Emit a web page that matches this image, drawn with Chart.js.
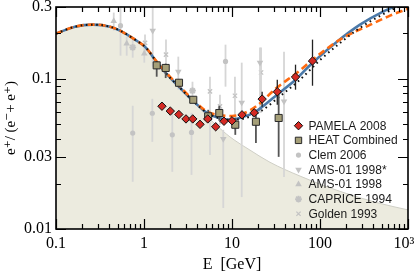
<!DOCTYPE html>
<html>
<head>
<meta charset="utf-8">
<script src="https://cdn.jsdelivr.net/npm/chart.js@4.4.0/dist/chart.umd.min.js"></script>
<style>
  html, body { margin: 0; padding: 0; background: #fff; }
</style>
</head>
<body>
<canvas id="chart" width="415" height="275"></canvas>
<script>
// Axis ticks and their labels
const xTicks = [0.1, 1, 10, 100, 1000];
const xTickLabels = ["0.1", "1", "10", "100", "10³\u2002"];
const yTicks = [0.01, 0.03, 0.1, 0.3];
const yTickLabels = ["0.01", "0.03", "0.1", "0.3"];

// Secondary positron background (shaded area)
const bgE = [0.1, 0.164, 0.263, 0.411, 0.533, 0.79, 1.05, 1.41, 1.975, 2.56, 3.6, 4.93, 6.41, 9.49, 16, 27, 59.3, 169, 481, 1000];
const bgV = [0.1995, 0.222, 0.229, 0.222, 0.2089, 0.182, 0.161, 0.128, 0.1015, 0.0871, 0.0713, 0.058, 0.05, 0.041, 0.0335, 0.0278, 0.0225, 0.0178, 0.0148, 0.0134];

// Model curves
const blueE = [0.1, 0.164, 0.263, 0.411, 0.533, 0.79, 1.05, 1.41, 1.975, 2.56, 3.6, 5.2, 7.3, 9.5, 12.9, 18.3, 22.1, 32.7, 52.7, 81.7, 156, 285, 520, 750, 1000];
const blueV = [0.1995, 0.222, 0.229, 0.222, 0.2089, 0.182, 0.161, 0.128, 0.1015, 0.0871, 0.0713, 0.0593, 0.0545, 0.0533, 0.0553, 0.06, 0.065, 0.0785, 0.0985, 0.1272, 0.1764, 0.229, 0.2797, 0.3067, 0.33];
const orangeE = [0.1, 0.164, 0.263, 0.411, 0.533, 0.79, 1.05, 1.41, 1.975, 2.56, 3.6, 5.2, 7.3, 10, 14.05, 19.2, 32.3, 54.8, 88, 169, 370, 625, 1000];
const orangeV = [0.1995, 0.222, 0.229, 0.222, 0.2089, 0.182, 0.161, 0.129, 0.103, 0.0885, 0.0725, 0.0605, 0.0572, 0.0565, 0.0593, 0.0661, 0.0871, 0.1096, 0.138, 0.182, 0.228, 0.263, 0.292];
const dotE = [0.1, 0.164, 0.263, 0.411, 0.533, 0.79, 1.05, 1.41, 1.975, 2.56, 3.6, 5.2, 7.3, 9.5, 14, 21.8, 35.1, 59.3, 100, 169, 285, 548, 811, 1000];
const dotV = [0.1995, 0.222, 0.229, 0.222, 0.2089, 0.182, 0.161, 0.128, 0.1015, 0.0871, 0.0713, 0.0593, 0.0545, 0.0533, 0.0545, 0.0614, 0.0765, 0.0985, 0.133, 0.173, 0.218, 0.273, 0.305, 0.325];

// PAMELA 2008
const pamE = [1.6, 1.99, 2.49, 3.0, 3.58, 4.33, 5.3, 6.53, 8.11, 10.0, 13.0, 17.9, 22.0, 32.7, 52.7, 82.2];
const pamV = [0.0656, 0.0609, 0.0578, 0.054, 0.054, 0.0497, 0.054, 0.0479, 0.0521, 0.0525, 0.0575, 0.0593, 0.0732, 0.0819, 0.1026, 0.1312];
const pamLo = [0.0646, 0.06, 0.057, 0.0532, 0.0532, 0.049, 0.0532, 0.0471, 0.0511, 0.0513, 0.0555, 0.0565, 0.0651, 0.067, 0.0845, 0.0898];
const pamHi = [0.0666, 0.0618, 0.0586, 0.0548, 0.0548, 0.0504, 0.0548, 0.0487, 0.0531, 0.0537, 0.0595, 0.0621, 0.0819, 0.0985, 0.124, 0.182];

// HEAT combined
const heatE = [1.394, 1.764, 2.5, 3.63, 5.36, 7.17, 10.9, 18.7, 33.9];
const heatV = [0.1227, 0.1179, 0.094, 0.0724, 0.0562, 0.0591, 0.0494, 0.0517, 0.0548];
const heatLo = [0.1031, 0.101, 0.0871, 0.069, 0.0517, 0.0525, 0.0423, 0.0374, 0.0302];
const heatHi = [0.1298, 0.126, 0.0985, 0.076, 0.0621, 0.066, 0.055, 0.0621, 0.0845];

// Older measurements (gray)
const clemE = [0.541, 0.744, 1.243, 2.097, 3.466, 8.44];
const clemV = [0.2255, 0.0435, 0.0589, 0.0423, 0.0439, 0.1304];
const clemLo = [0.1423, 0.0206, 0.038, 0.024, 0.0229, 0.0885];
const clemHi = [0.2974, 0.0661, 0.0735, 0.0593, 0.0593, 0.1685];

const amsStarE = [1.256, 2.454, 7.96, 12.9, 20.8, 39.0];
const amsStarV = [0.2089, 0.1113, 0.0398, 0.0692, 0.1279, 0.0706];
const amsStarLo = [0.1202, 0.0845, 0.0138, 0.0163, 0.0593, 0.0222];
const amsStarHi = [0.34, 0.1402, 0.0457, 0.1279, 0.161, 0.1514];

const amsE = [0.453, 0.636, 1.008];
const amsV = [0.2416, 0.1711, 0.1468];
const amsLo = [0.2089, 0.1423, 0.1279];
const amsHi = [0.2754, 0.1905, 0.1685];

const capE = [0.744, 3.557];
const capV = [0.1617, 0.0832];
const capLo = [0.138, 0.0724];
const capHi = [0.182, 0.0955];

const goldE = [1.027, 1.778, 5.62, 7.3, 10.8, 21.4];
const goldV = [0.173, 0.1445, 0.0823, 0.0654, 0.077, 0.11];
const goldLo = [0.1514, 0.1145, 0.0311, 0.0493, 0.0457, 0.0593];
const goldHi = [0.1965, 0.182, 0.1031, 0.0782, 0.1031, 0.161];

const pts = (xs, ys) => xs.map((x, i) => ({ x, y: ys[i] }));

const SERIF = "'Liberation Serif', 'DejaVu Serif', serif";
const SANS = "'Liberation Sans', Arial, sans-serif";
const GRAY = "#c3c3c3";
const GRAY_BAR = "#d6d6d6";

const curve = (label, xs, ys, color, dash, width) => ({
  label, data: pts(xs, ys), showLine: true, pointRadius: 0,
  borderColor: color, borderWidth: width, borderDash: dash,
  cubicInterpolationMode: "monotone", fill: false,
});

const marks = (label, xs, ys, lo, hi, style, opts) => Object.assign({
  label, data: pts(xs, ys), showLine: false, pointStyle: style,
  errLo: lo, errHi: hi, inLegend: true,
}, opts);

// error bars drawn right before each dataset's markers
const errorBars = {
  id: "errorBars",
  beforeDatasetDraw(chart, args) {
    const ds = chart.data.datasets[args.index];
    if (!ds.errLo) return;
    const { ctx, chartArea: a, scales: { x, y } } = chart;
    ctx.save();
    ctx.beginPath();
    ctx.rect(a.left, a.top, a.right - a.left, a.bottom - a.top);
    ctx.clip();
    ctx.strokeStyle = ds.errColor;
    ctx.lineWidth = ds.errWidth;
    ds.data.forEach((p, i) => {
      const px = x.getPixelForValue(p.x);
      ctx.beginPath();
      ctx.moveTo(px, y.getPixelForValue(ds.errLo[i]));
      ctx.lineTo(px, y.getPixelForValue(ds.errHi[i]));
      ctx.stroke();
    });
    ctx.restore();
  },
};

// inward ticks on all four sides plus the frame
const frameTicks = {
  id: "frameTicks",
  afterDatasetsDraw(chart) {
    const { ctx, chartArea: a, scales: { x, y } } = chart;
    ctx.save();
    ctx.strokeStyle = "#000";
    ctx.lineWidth = 1.2;
    const minorX = [];
    [0.1, 1, 10, 100].forEach((d) => { for (let k = 2; k <= 9; k++) minorX.push(d * k); });
    const minorY = [0.02, 0.04, 0.05, 0.06, 0.07, 0.08, 0.09, 0.2];
    const tickX = (v, len) => {
      const px = Math.round(x.getPixelForValue(v)) + 0.5;
      ctx.beginPath();
      ctx.moveTo(px, a.bottom); ctx.lineTo(px, a.bottom - len);
      ctx.moveTo(px, a.top); ctx.lineTo(px, a.top + len);
      ctx.stroke();
    };
    const tickY = (v, len) => {
      const py = Math.round(y.getPixelForValue(v)) + 0.5;
      ctx.beginPath();
      ctx.moveTo(a.left, py); ctx.lineTo(a.left + len, py);
      ctx.moveTo(a.right, py); ctx.lineTo(a.right - len, py);
      ctx.stroke();
    };
    minorX.forEach((v) => tickX(v, 5));
    xTicks.forEach((v) => tickX(v, 10));
    minorY.forEach((v) => tickY(v, 5));
    yTicks.forEach((v) => tickY(v, 10));
    ctx.lineWidth = 1.6;
    ctx.strokeRect(a.left, a.top, a.right - a.left, a.bottom - a.top);
    ctx.restore();
  },
};

// legend inside the plot, lower right
const insideLegend = {
  id: "insideLegend",
  afterDraw(chart) {
    const { ctx } = chart;
    const items = chart.data.datasets.filter((d) => d.inLegend);
    const x0 = 298.5, y0 = 125.7, step = 14.67;
    ctx.save();
    ctx.font = "12px " + SANS;
    ctx.textBaseline = "middle";
    ctx.textAlign = "left";
    items.forEach((d, i) => {
      const yy = y0 + i * step;
      ctx.fillStyle = d.backgroundColor;
      ctx.strokeStyle = d.borderColor;
      ctx.lineWidth = d.borderWidth;
      Chart.helpers.drawPoint(ctx, {
        pointStyle: d.pointStyle, radius: d.legendRadius || d.pointRadius,
        rotation: d.rotation || 0, borderWidth: d.borderWidth,
      }, x0, yy);
      ctx.fillStyle = "#1a1a1a";
      ctx.fillText(d.label, x0 + 10, yy + 0.5);
    });
    ctx.restore();
  },
};

const datasets = [
  marks("PAMELA 2008", pamE, pamV, pamLo, pamHi, "rectRot", {
    pointRadius: 4.2, backgroundColor: "#d42a24", borderColor: "#111", borderWidth: 1,
    errColor: "#222", errWidth: 1.3,
  }),
  marks("HEAT Combined", heatE, heatV, heatLo, heatHi, "rect", {
    pointRadius: 5, backgroundColor: "#a59f78", borderColor: "#2a2a2a", borderWidth: 1,
    errColor: "#555", errWidth: 1.8, legendRadius: 4.5,
  }),
  curve("dotted", dotE, dotV, "#111", [1.6, 3.6], 2),
  curve("orange", orangeE, orangeV, "#ff6a10", [7, 4], 2.6),
  curve("blue", blueE, blueV, "#4a79a9", [], 2.6),
  marks("Clem 2006", clemE, clemV, clemLo, clemHi, "circle", {
    pointRadius: 2.6, backgroundColor: GRAY, borderColor: GRAY, borderWidth: 0,
    errColor: GRAY_BAR, errWidth: 1.8,
  }),
  marks("AMS-01 1998*", amsStarE, amsStarV, amsStarLo, amsStarHi, "triangle", {
    pointRadius: 3.8, rotation: 180, backgroundColor: GRAY, borderColor: GRAY, borderWidth: 0,
    errColor: GRAY_BAR, errWidth: 1.8,
  }),
  marks("AMS-01 1998", amsE, amsV, amsLo, amsHi, "triangle", {
    pointRadius: 3.8, backgroundColor: GRAY, borderColor: GRAY, borderWidth: 0,
    errColor: GRAY_BAR, errWidth: 1.8,
  }),
  marks("CAPRICE 1994", capE, capV, capLo, capHi, "star", {
    pointRadius: 3.4, backgroundColor: GRAY, borderColor: GRAY, borderWidth: 1.8,
    errColor: GRAY_BAR, errWidth: 1.8,
  }),
  marks("Golden 1993", goldE, goldV, goldLo, goldHi, "crossRot", {
    pointRadius: 3, backgroundColor: GRAY, borderColor: GRAY, borderWidth: 1.3,
    errColor: GRAY_BAR, errWidth: 1.8,
  }),
  {
    label: "background", data: pts(bgE, bgV), showLine: true, pointRadius: 0,
    borderColor: "#cfcfc6", borderWidth: 1, backgroundColor: "#ecebdf",
    fill: "start", cubicInterpolationMode: "monotone",
  },
];

new Chart(document.getElementById("chart"), {
  type: "scatter",
  data: { datasets },
  options: {
    responsive: false,
    animation: false,
    events: [],
    layout: { padding: { left: 0, right: 7, top: 7, bottom: 0 } },
    plugins: { legend: { display: false }, tooltip: { enabled: false } },
    scales: {
      x: {
        type: "logarithmic", min: 0.1, max: 1000,
        afterBuildTicks: (s) => { s.ticks = xTicks.map((v) => ({ value: v })); },
        afterFit: (s) => {
          s.height = 46;
          s.paddingLeft = 0; s.paddingRight = 0;
        },
        grid: { display: false, drawTicks: false },
        border: { display: false },
        ticks: {
          callback: (v, i) => xTickLabels[i], autoSkip: false, maxRotation: 0,
          font: { family: SERIF, size: 16 }, color: "#000", padding: 5,
        },
        title: {
          display: true, text: "E  [GeV]", color: "#000",
          font: { family: SERIF, size: 16 }, padding: { top: 0, bottom: 1 },
        },
      },
      y: {
        type: "logarithmic", min: 0.01, max: 0.3,
        afterBuildTicks: (s) => { s.ticks = yTicks.map((v) => ({ value: v })); },
        afterFit: (s) => {
          s.width = 56;
          s.paddingTop = 0; s.paddingBottom = 0;
        },
        grid: { display: false, drawTicks: false },
        border: { display: false },
        ticks: {
          callback: (v, i) => yTickLabels[i], autoSkip: false,
          font: { family: SERIF, size: 16 }, color: "#000", padding: 4,
        },
        title: {
          display: true, text: "e⁺/ (e⁻+ e⁺)", color: "#000",
          font: { family: SERIF, size: 15 }, padding: { top: 2, bottom: 0 },
        },
      },
    },
  },
  plugins: [errorBars, frameTicks, insideLegend],
});
</script>
</body>
</html>
